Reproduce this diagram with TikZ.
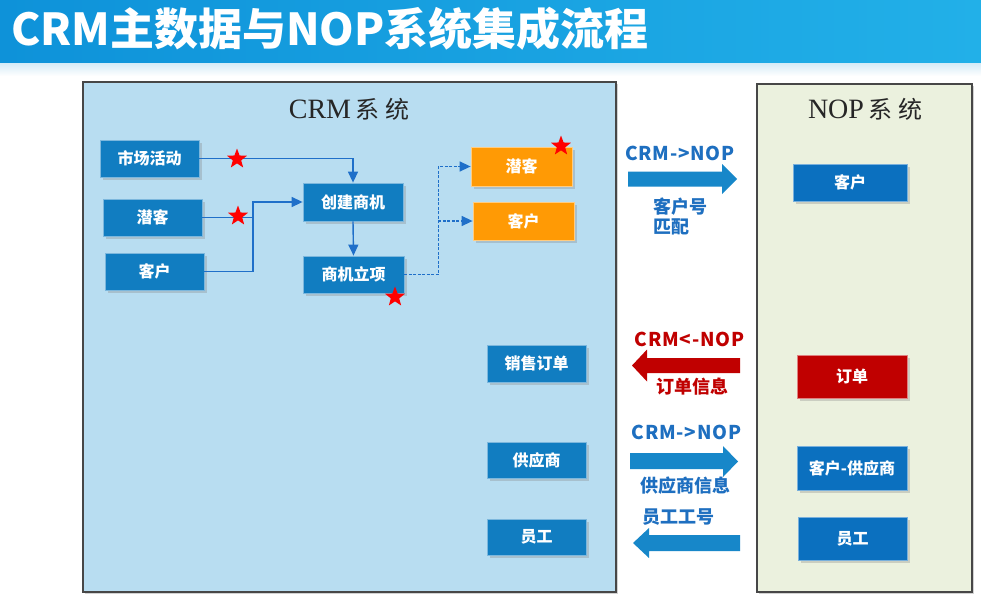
\documentclass[tikz,border=0pt]{standalone}
\usepackage{fontspec}
\newfontfamily\cjk{Noto Sans CJK SC}
\newfontfamily\serifr{Liberation Serif}
\usetikzlibrary{shapes.geometric,shadows,arrows.meta}
\definecolor{barA}{HTML}{0E92D9}
\definecolor{barB}{HTML}{22B0E8}
\definecolor{crmfill}{HTML}{B8DDF1}
\definecolor{nopfill}{HTML}{EBF1DE}
\definecolor{boxblue}{HTML}{117DC1}
\definecolor{nopblue}{HTML}{0B70BF}
\definecolor{orangebox}{HTML}{FF9A05}
\definecolor{redbox}{HTML}{C00000}
\definecolor{connblue}{HTML}{1F6FC9}
\definecolor{arrblue}{HTML}{1787C9}
\definecolor{lblblue}{HTML}{1E6FC0}
\definecolor{lblred}{HTML}{C00000}
\tikzset{
  panel/.style={draw=black!72, line width=1.4pt, drop shadow={opacity=0.35, shadow xshift=2pt, shadow yshift=-2pt}},
  boxn/.style={rectangle, fill=boxblue, draw=boxblue!55!white, line width=0.8pt, text=white,
    font=\cjk\bfseries\fontsize{16}{19}\selectfont, inner sep=0pt,
    drop shadow={opacity=0.3, shadow xshift=3pt, shadow yshift=-3pt}},
  nbox/.style={boxn, fill=nopblue, draw=nopblue!55!white},
  obox/.style={boxn, fill=orangebox, draw=orangebox!50!white},
  rbox/.style={boxn, fill=redbox, draw=redbox!50!white},
  conn/.style={draw=connblue, line width=1.4pt, -{Triangle[length=11pt,width=10pt]}},
  dconn/.style={conn, dash pattern=on 3pt off 1.5pt},
  starn/.style={star, star points=5, star point ratio=2.4, fill=red, draw=none, minimum size=21pt, inner sep=0pt},
  lbl/.style={text=lblblue, font=\cjk\bfseries\fontsize{18}{21}\selectfont, inner sep=0pt},
  rlbl/.style={lbl, text=lblred},
  ptitle/.style={inner sep=0pt, text=black!85}
}
\newcommand{\dirlbl}[1]{\fontsize{19}{21}\selectfont\addfontfeature{LetterSpace=4}#1}
\begin{document}
\begin{tikzpicture}[x=1pt,y=-1pt]
\useasboundingbox (0,0) rectangle (981,610);
\fill[white] (0,0) rectangle (981,610);
% title bar
\shade[left color=barA, right color=barB] (0,0) rectangle (981,63);
\shade[top color=crmfill!60!white, bottom color=white] (0,63) rectangle (981,76);
\node[anchor=west, inner sep=0pt, text=white, font=\cjk\bfseries\fontsize{44}{50}\selectfont] (title) at (11,29) {CRM主数据与NOP系统集成流程};
% panels
\filldraw[panel, fill=crmfill] (83,82) rectangle (616,592);
\filldraw[panel, fill=nopfill] (757,84) rectangle (972,592);
\node[ptitle] (crmt) at (349,109) {\serifr\fontsize{28}{32}\selectfont CRM\hspace{4pt}\cjk\fontsize{24}{28}\selectfont 系\hspace{6pt}统};
\node[ptitle] (nopt) at (865,109) {\serifr\fontsize{28}{32}\selectfont NOP\hspace{4pt}\cjk\fontsize{24}{28}\selectfont 系\hspace{6pt}统};
% CRM boxes
\node[boxn, minimum width=99pt, minimum height=37pt] (mkt) at (149.5,158.5) {市场活动};
\node[boxn, minimum width=99pt, minimum height=37pt] (lead) at (152.5,217.5) {潜客};
\node[boxn, minimum width=99pt, minimum height=37pt] (cust) at (154.5,271.5) {客户};
\node[boxn, minimum width=100pt, minimum height=38pt] (create) at (353,202) {创建商机};
\node[boxn, minimum width=101pt, minimum height=37pt] (proj) at (353.5,274.5) {商机立项};
\node[obox, minimum width=101pt, minimum height=39pt] (olead) at (521.5,166.5) {潜客};
\node[obox, minimum width=101pt, minimum height=38pt] (ocust) at (523.5,221) {客户};
\node[boxn, minimum width=99pt, minimum height=37pt] (so) at (536.5,363.5) {销售订单};
\node[boxn, minimum width=99pt, minimum height=36pt] (sup) at (536.5,460) {供应商};
\node[boxn, minimum width=99pt, minimum height=36pt] (emp) at (536.5,537) {员工};
% NOP boxes
\node[nbox, minimum width=114pt, minimum height=37pt] (ncust) at (850,182.5) {客户};
\node[rbox, minimum width=110pt, minimum height=43pt] (norder) at (852,376.5) {订单};
\node[nbox, minimum width=110pt, minimum height=44pt] (nsup) at (852,468) {客户-供应商};
\node[nbox, minimum width=109pt, minimum height=43pt] (nemp) at (852.5,538.5) {员工};
% connectors
\draw[conn] (mkt.east) -| (create.north);
\coordinate (j1) at (253,217.5);
\draw[draw=connblue, line width=1.4pt] (lead.east) -- (j1);
\draw[conn] (cust.east) -| (j1) |- (create.west);
\draw[conn] (create.south) -- (proj.north);
\draw[dconn] (proj.east) -- ++(34,0) coordinate (j2) |- (olead.west);
\draw[dconn] (j2 |- ocust.west) -- (ocust.west);
% stars
\node[starn] (s1) at (237,159) {};
\node[starn] (s2) at (238,216) {};
\node[starn] (s3) at (395,297) {};
\node[starn] (s4) at (561,146) {};
% block arrows
\fill[arrblue] (628,171.5) -- (722,171.5) -- (722,164) -- (737,179) -- (722,194) -- (722,186.5) -- (628,186.5) -- cycle;
\fill[redbox] (740,358) -- (647,358) -- (647,349.5) -- (632,365.5) -- (647,381.5) -- (647,373) -- (740,373) -- cycle;
\fill[arrblue] (630,453) -- (723,453) -- (723,446) -- (738,461.5) -- (723,477) -- (723,469) -- (630,469) -- cycle;
\fill[arrblue] (740,535) -- (649,535) -- (649,528) -- (633,543) -- (649,558) -- (649,551) -- (740,551) -- cycle;
% labels
\node[lbl] (l1) at (680,153) {\dirlbl{CRM->NOP}};
\node[lbl, anchor=west] (l1b) at (653,207) {客户号};
\node[lbl, anchor=west] (l1c) at (653,227) {匹配};
\node[rlbl] (l2) at (689.5,339) {\dirlbl{CRM<-NOP}};
\node[rlbl] (l2b) at (692,387) {订单信息};
\node[lbl] (l3) at (686.5,432) {\dirlbl{CRM->NOP}};
\node[lbl] (l3b) at (685.5,486) {供应商信息};
\node[lbl] (l4) at (678,517) {员工工号};
\end{tikzpicture}
\end{document}
